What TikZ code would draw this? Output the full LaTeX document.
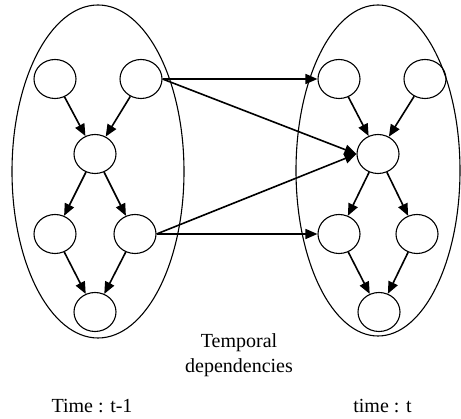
\documentclass[tikz,border=0pt]{standalone}
\usepackage{fontspec}
\setmainfont{Liberation Serif}
\usetikzlibrary{shapes.geometric,arrows.meta}
\begin{document}
\begin{tikzpicture}[x=1pt,y=-1pt,
  big/.style={draw, ellipse, line width=1.1pt, inner sep=0pt},
  var/.style={draw, ellipse, line width=1.1pt, minimum width=42pt, minimum height=39pt, inner sep=0pt},
  dep/.style={line width=1.6pt, -{Triangle[length=12pt,width=10pt]}},
  lbl/.style={font=\fontsize{20}{25}\selectfont, inner sep=0pt, anchor=base}]
\useasboundingbox (0,0) rectangle (461,419);
\node[big, minimum width=172pt, minimum height=333pt] (LB) at (98,171.5) {};
\node[big, minimum width=164pt, minimum height=331pt] (RB) at (378,170.5) {};
% left slice
\node[var] (L1) at (55,79) {};
\node[var] (L2) at (141,79) {};
\node[var] (L3) at (95,154) {};
\node[var] (L4) at (55,234) {};
\node[var] (L5) at (135,234) {};
\node[var] (L6) at (95,312) {};
% right slice
\node[var] (R1) at (339,79) {};
\node[var] (R2) at (425,79) {};
\node[var] (R3) at (378,154) {};
\node[var] (R4) at (339,234) {};
\node[var] (R5) at (417,234) {};
\node[var] (R6) at (379,312) {};
% intra-slice
\foreach \s in {L,R}{
  \draw[dep] (\s1) -- (\s3);
  \draw[dep] (\s2) -- (\s3);
  \draw[dep] (\s3) -- (\s4);
  \draw[dep] (\s3) -- (\s5);
  \draw[dep] (\s4) -- (\s6);
  \draw[dep] (\s5) -- (\s6);
}
% temporal
\draw[dep] (L2.east) -- (R1.west);
\draw[dep] (L2.east) -- (R3.west);
\draw[dep] (L5.east) -- (R3.west);
\draw[dep] (L5.east) -- (R4.west);
% labels
\node[lbl] (T1a) at (239,348) {Temporal};
\node[lbl] (T1b) at (239,373) {dependencies};
\node[lbl] (T2) at (92,413) {Time : t-1};
\node[lbl] (T3) at (382.5,413) {time : t};
\end{tikzpicture}
\end{document}
